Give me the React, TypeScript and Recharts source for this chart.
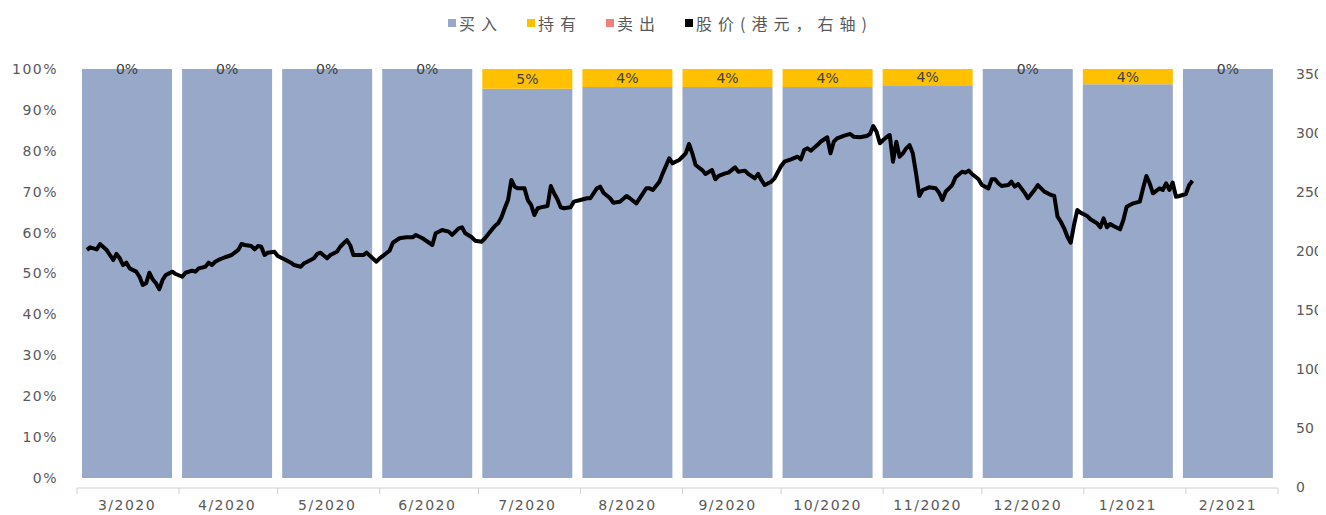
import React from 'react';
import { ComposedChart, Bar, Line, XAxis, YAxis, Legend, LabelList } from 'recharts';

// Monthly rating distribution (%)
const months = ['3/2020', '4/2020', '5/2020', '6/2020', '7/2020', '8/2020', '9/2020', '10/2020', '11/2020', '12/2020', '1/2021', '2/2021'];
const buyPct = [100, 100, 100, 100, 95.2, 95.6, 95.6, 95.6, 96.0, 100, 96.3, 100];
const holdPct = [0, 0, 0, 0, 4.8, 4.4, 4.4, 4.4, 4.0, 0, 3.7, 0];
const sellPct = [0, 0, 0, 0, 0, 0, 0, 0, 0, 0, 0, 0];

// Share price (HKD), day = days since 2020-03-01
const priceDays = [
  3, 4, 6, 7, 9, 10, 11, 12, 13, 14, 15, 16, 18, 19, 20, 21, 22, 23, 24, 25, 26, 27, 29, 30, 32, 33, 35, 36, 37, 39,
  40, 41, 42, 43, 45, 47, 49, 50, 51, 53, 54, 55, 56, 57, 58, 60, 61, 63, 65, 66, 68, 69, 70, 72, 73, 74, 76, 77, 79, 80,
  82, 83, 84, 85, 87, 88, 91, 92, 94, 95, 96, 98, 100, 102, 103, 105, 107, 108, 109, 111, 113, 114, 116, 117, 118, 120, 121, 123, 124, 126,
  127, 128, 129, 130, 131, 132, 133, 134, 136, 137, 138, 139, 140, 141, 143, 144, 145, 146, 147, 148, 150, 151, 153, 155, 156, 158, 159, 160, 162, 163,
  165, 167, 168, 170, 172, 173, 174, 175, 177, 178, 180, 181, 183, 184, 185, 186, 187, 188, 190, 191, 193, 194, 195, 197, 198, 200, 201, 203, 204, 206,
  207, 208, 209, 211, 212, 214, 215, 217, 219, 220, 221, 222, 223, 225, 226, 228, 229, 230, 231, 233, 235, 236, 238, 240, 241, 242, 243, 244, 245, 246,
  247, 248, 249, 250, 251, 252, 253, 254, 255, 256, 257, 259, 261, 262, 263, 264, 266, 267, 269, 270, 271, 272, 274, 275, 277, 278, 279, 280, 281, 283,
  284, 285, 286, 287, 288, 289, 291, 292, 293, 294, 296, 297, 298, 299, 300, 301, 302, 303, 304, 305, 307, 308, 310, 311, 312, 313, 314, 315, 317, 318,
  319, 321, 323, 324, 325, 326, 327, 329, 330, 331, 332, 333, 334, 335, 337, 338, 339,
];
const priceValues = [
  200.9, 203.1, 201.4, 205.9, 200.9, 196.6, 192.4, 197.5, 193.8, 188.1, 190.1, 185.3, 182.5, 178.2, 171.2, 172.6, 181.6, 176.0, 172.6, 167.5, 175.4, 179.7, 182.5, 180.5, 178.2, 181.6, 183.3, 182.5, 185.3, 186.7,
  190.1, 188.1, 190.9, 192.4, 194.7, 196.6, 200.9, 205.9, 205.1, 204.2, 201.4, 204.2, 203.6, 196.6, 198.6, 199.4, 195.8, 193.0, 190.1, 188.1, 186.7, 189.6, 190.9, 193.8, 197.5, 198.6, 193.8, 196.6, 199.4, 203.6,
  209.3, 205.1, 196.6, 196.6, 196.6, 198.6, 190.9, 193.8, 198.1, 200.3, 207.0, 210.8, 211.6, 211.6, 213.6, 210.8, 207.0, 205.1, 215.0, 217.8, 216.4, 213.6, 219.2, 220.1, 215.0, 211.6, 208.7, 207.9, 210.8, 217.8,
  221.2, 223.5, 228.6, 236.2, 243.2, 260.2, 254.5, 253.1, 253.1, 243.2, 239.0, 230.5, 236.2, 237.0, 238.1, 255.1, 248.9, 243.8, 237.0, 236.2, 237.0, 241.8, 243.2, 244.7, 244.7, 253.1, 254.5, 249.4, 244.7, 240.9,
  241.8, 246.6, 244.7, 240.4, 248.9, 253.1, 253.1, 251.7, 258.7, 265.8, 278.6, 274.3, 277.1, 279.9, 282.8, 290.7, 282.8, 272.9, 268.6, 265.3, 268.6, 260.8, 263.6, 265.8, 266.4, 270.9, 267.2, 268.1, 265.3, 261.6,
  265.3, 260.2, 255.9, 258.7, 261.6, 272.0, 275.7, 277.7, 279.9, 277.7, 285.6, 287.0, 285.0, 289.8, 292.6, 296.4, 282.8, 292.6, 295.5, 297.5, 299.2, 296.9, 296.4, 297.5, 299.2, 305.9, 301.1, 291.3, 294.1, 296.4,
  298.3, 275.7, 292.6, 279.9, 282.8, 287.0, 289.8, 282.8, 265.8, 246.6, 251.7, 254.0, 253.1, 249.4, 243.2, 250.3, 255.9, 262.5, 267.2, 266.4, 268.1, 265.3, 260.8, 255.9, 253.1, 260.8, 260.8, 257.4, 255.1, 255.9,
  258.7, 254.5, 256.8, 253.1, 249.4, 244.7, 251.7, 255.9, 253.1, 250.3, 247.5, 246.6, 229.1, 224.8, 219.2, 212.1, 207.0, 222.0, 234.7, 232.5, 229.7, 226.9, 223.5, 220.1, 227.7, 220.1, 222.9, 221.2, 218.4, 226.3,
  237.5, 240.4, 241.8, 253.1, 263.6, 257.4, 248.9, 253.1, 251.7, 257.4, 251.7, 257.9, 246.0, 246.6, 248.3, 255.9, 259.6,
];

const pctTicks = [0, 10, 20, 30, 40, 50, 60, 70, 80, 90, 100];
const priceTicks = [0, 50, 100, 150, 200, 250, 300, 350];
const monthStartDays = [0, 31, 61, 92, 122, 153, 184, 214, 245, 275, 306, 337, 365];

const BUY = '#97A8C9';
const HOLD = '#FFC000';
const SELL = '#F28080';
const PRICE = '#000000';
const AXIS_GRAY = '#CFCFCF';

const barData = months.map((m, i) => ({ month: m, buy: buyPct[i], hold: holdPct[i], sell: sellPct[i] }));
const lineData = priceDays.map((d, i) => ({ day: d, price: priceValues[i] }));

const legendItems = [
  { name: '买入', color: BUY },
  { name: '持有', color: HOLD },
  { name: '卖出', color: SELL },
  { name: '股价(港元，右轴)', color: PRICE },
];

const renderLegend = () => (
  <div style={{ display: 'flex', alignItems: 'center', height: 30, paddingLeft: 440, boxSizing: 'border-box' }}>
    {legendItems.map((it) => (
      <div key={it.name} style={{ display: 'flex', alignItems: 'center', marginRight: 24 }}>
        <span style={{ display: 'inline-block', width: 8, height: 8, background: it.color, marginRight: 3 }} />
        <span style={{ fontFamily: '"Noto Sans CJK SC", sans-serif', fontSize: 16, letterSpacing: 6, color: '#595959', lineHeight: '30px' }}>
          {it.name}
        </span>
      </div>
    ))}
  </div>
);

// Hold-share label drawn at the centre of the hold segment (also for 0%)
const renderHoldLabel = (props: any) => {
  const vb = props.viewBox || props;
  const { x, y, width, height } = vb;
  const idx = props.index;
  const hold = holdPct[idx];
  const buy = buyPct[idx];
  const pxPer = buy ? height / buy : 0;
  const cy = y - (hold * pxPer) / 2;
  return (
    <text
      x={x + width / 2}
      y={cy}
      textAnchor="middle"
      dominantBaseline="central"
      style={{ fontFamily: '"DejaVu Sans", sans-serif', fontSize: 14, fill: '#404040' }}
    >
      {`${Math.round(hold)}%`}
    </text>
  );
};

const tickFont = { fontFamily: '"DejaVu Sans", sans-serif', fontSize: 14, fill: '#595959' };

export default function App() {
  return (
    <ComposedChart
      width={1318}
      height={507}
      data={barData}
      margin={{ top: 31, right: 8, bottom: 0, left: 0 }}
      barCategoryGap={5}
    >
      <Legend verticalAlign="top" content={renderLegend} wrapperStyle={{ top: 0, left: 0, width: 1318, height: 30 }} />
      <XAxis
        xAxisId="aDate"
        type="number"
        dataKey="day"
        domain={[0, 365]}
        ticks={monthStartDays}
        height={2}
        tick={() => null}
        axisLine={{ stroke: AXIS_GRAY, strokeWidth: 1 }}
        tickLine={{ stroke: AXIS_GRAY }}
        tickSize={6}
      />
      <XAxis
        xAxisId="bCat"
        dataKey="month"
        type="category"
        axisLine={false}
        tickLine={false}
        tickMargin={4}
        height={25}
        tick={{ ...tickFont, letterSpacing: 1.5 }}
        interval={0}
      />
      <YAxis
        yAxisId="left"
        orientation="left"
        width={69}
        domain={[-2.445, 100]}
        ticks={pctTicks}
        tickFormatter={(v: number) => `${v}%`}
        axisLine={false}
        tickLine={false}
        tickMargin={13}
        tick={{ ...tickFont, letterSpacing: 1.5 }}
      />
      <YAxis
        yAxisId="right"
        orientation="right"
        width={40}
        domain={[-0.85, 354.24]}
        ticks={priceTicks}
        axisLine={false}
        tickLine={false}
        tickMargin={12}
        tick={tickFont}
      />
      <Bar dataKey="buy" stackId="r" xAxisId="bCat" yAxisId="left" fill={BUY} isAnimationActive={false}>
        <LabelList dataKey="hold" content={renderHoldLabel} />
      </Bar>
      <Bar dataKey="hold" stackId="r" xAxisId="bCat" yAxisId="left" fill={HOLD} isAnimationActive={false} />
      <Bar dataKey="sell" stackId="r" xAxisId="bCat" yAxisId="left" fill={SELL} isAnimationActive={false} />
      <Line
        data={lineData}
        dataKey="price"
        xAxisId="aDate"
        yAxisId="right"
        type="linear"
        stroke={PRICE}
        strokeWidth={4}
        strokeLinejoin="round"
        dot={false}
        activeDot={false}
        isAnimationActive={false}
      />
    </ComposedChart>
  );
}
